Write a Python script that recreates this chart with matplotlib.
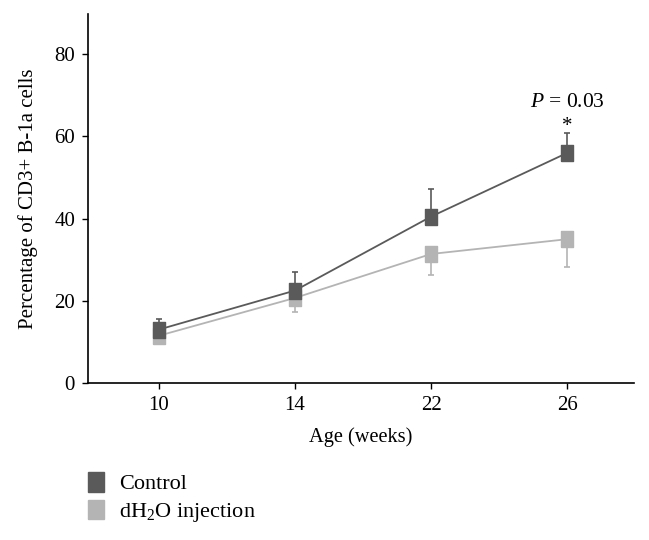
import matplotlib
matplotlib.use("Agg")
import matplotlib.pyplot as plt
from matplotlib.patches import Rectangle

ages = ["10", "14", "22", "26"]
control = [13.0, 22.5, 40.5, 56.0]
control_err = [2.5, 4.5, 6.7, 4.8]
water = [11.5, 20.7, 31.4, 35.0]
water_err = [1.0, 3.4, 5.1, 6.8]
yticks = [0, 20, 40, 60, 80]

dark = "#5a5a5a"
light = "#b4b4b4"

plt.rcParams['font.family'] = ['Liberation Serif', 'DejaVu Serif']
plt.rcParams['mathtext.fontset'] = 'custom'
plt.rcParams['mathtext.rm'] = 'Liberation Serif'
plt.rcParams['mathtext.it'] = 'Liberation Serif:italic'

fig = plt.figure(figsize=(6.49, 5.40), dpi=100)
ax = fig.add_axes([88/649, 1-383/540, (634-88)/649, (383-14)/540])

x = list(range(len(ages)))
rect = [(-0.7, -1), (0.7, -1), (0.7, 1), (-0.7, 1), (-0.7, -1)]

ax.errorbar(x, water, yerr=[water_err, [0]*4], color=light, lw=1.3,
            marker=rect, ms=11.5, mec=light, mfc=light, capsize=2.5, elinewidth=1.2,
            capthick=1.2, zorder=2)
ax.errorbar(x, control, yerr=[[0]*4, control_err], color=dark, lw=1.3,
            marker=rect, ms=11.5, mec=dark, mfc=dark, capsize=2.5, elinewidth=1.2,
            capthick=1.2, zorder=3)

ax.set_xlim(-0.52, 3.49)
ax.set_ylim(0, 89.8)
ax.set_xticks(x)
ax.set_xticklabels(ages)
ax.set_yticks(yticks)
ax.tick_params(direction='out', length=4.3, labelsize=15, width=1, pad=5)
for s in ['top', 'right']:
    ax.spines[s].set_visible(False)
for s in ['left', 'bottom']:
    ax.spines[s].set_linewidth(1.2)

ax.set_xlabel("Age (weeks)", fontsize=14.7, labelpad=9)
ax.set_ylabel("Percentage of CD3+ B-1a cells", fontsize=15, labelpad=12)

ax.text(3, 67.2, r"$P$ = 0.03", ha='center', va='baseline', fontsize=15.5)
ax.text(3, 61.3, "*", ha='center', va='baseline', fontsize=15)

# legend
fig.patches.append(Rectangle((88/649, 1-492/540), 16/649, 20/540, color=dark, transform=fig.transFigure))
fig.patches.append(Rectangle((88/649, 1-519/540), 16/649, 19/540, color=light, transform=fig.transFigure))
fig.text(119/649, 1-489/540, "Control", fontsize=16, va='baseline')
fig.text(119/649, 1-517/540, "dH$_2$O injection", fontsize=16, va='baseline')

fig.savefig("out.png", dpi=100)
